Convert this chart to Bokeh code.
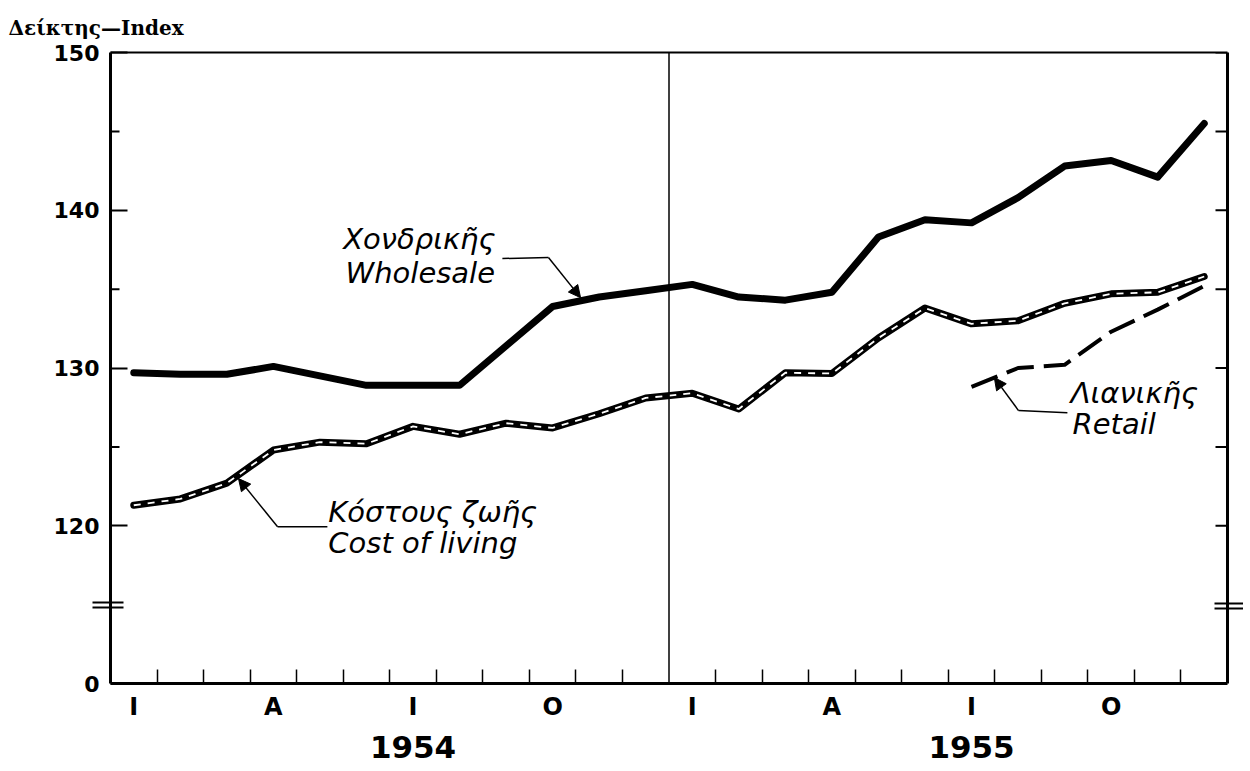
from bokeh.plotting import figure
from bokeh.models import (Range1d, LinearAxis, FixedTicker, Span, Label, Arrow,
                          NormalHead, ColumnDataSource)
from bokeh.embed import file_html
from bokeh.resources import INLINE

# ---------------- data (monthly index, Jan 1954 .. Dec 1955) ----------------
years = ["1954", "1955"]
quarter_letters = ["I", "A", "I", "O"]          # Ιαν., Απρ., Ιουλ., Οκτ.
wholesale = [129.7, 129.6, 129.6, 130.1, 129.5, 128.9, 128.9, 128.9, 131.4, 133.9, 134.5, 134.9,
             135.3, 134.5, 134.3, 134.8, 138.3, 139.4, 139.2, 140.8, 142.8, 143.15, 142.1, 145.5]
cost_of_living = [121.3, 121.7, 122.7, 124.8, 125.3, 125.2, 126.3, 125.8, 126.5, 126.2, 127.1, 128.1,
                  128.4, 127.4, 129.7, 129.65, 131.9, 133.8, 132.8, 133.0, 134.1, 134.7, 134.8, 135.8]
retail = [None] * 18 + [128.8, 130.0, 130.2, 132.3, 133.7, 135.2]
y_tick_values = [120, 130, 140, 150]
y_half_values = [125, 135, 145]
axis_zero = 110      # position of the broken-axis "0"

n = len(wholesale)
x = [i + 0.5 for i in range(n)]
retail_f = [float("nan") if v is None else v for v in retail]
src = ColumnDataSource(dict(x=x, w=wholesale, c=cost_of_living, r=retail_f))

FONT = "DejaVu Sans"
FW, FH = 1117, 631                      # frame size in px
PX_X = n / FW                           # data units per px (x)

p = figure(frame_width=FW, frame_height=FH, x_range=Range1d(0, n), y_range=Range1d(axis_zero, 150),
           output_backend="svg", toolbar_location=None,
           x_axis_type=None, y_axis_type=None,
           min_border_left=110, min_border_right=15, min_border_top=52, min_border_bottom=82,
           outline_line_color=None, background_fill_color="white", border_fill_color="white")
p.grid.visible = False

# title at the top-left
p.title.text = "Δείκτης—Index"
p.title.text_font = "DejaVu Serif"
p.title.text_font_style = "bold"
p.title.text_font_size = "20px"
p.title.text_color = "black"
p.title.align = "left"
p.title.offset = -102
p.title.standoff = 26

# ---------------- axes ----------------
brk_left = [114.82, 115.13]     # break marks on the value axis
brk_right = [114.75, 115.1]

yl = LinearAxis(ticker=FixedTicker(ticks=[axis_zero] + y_tick_values, minor_ticks=brk_left),
                major_label_overrides={axis_zero: "0"},
                axis_line_width=3, major_tick_in=17, major_tick_out=0, major_tick_line_width=2,
                minor_tick_in=13, minor_tick_out=18, minor_tick_line_width=2,
                major_label_text_font=FONT, major_label_text_font_size="22px",
                major_label_text_font_style="bold",
                major_label_standoff=-7, major_label_text_color="black")
p.add_layout(yl, "left")

yr = LinearAxis(ticker=FixedTicker(ticks=[], minor_ticks=brk_right),
                axis_line_width=3, minor_tick_in=13, minor_tick_out=16, minor_tick_line_width=2)
p.add_layout(yr, "right")

label_pos = [q * 3 + 0.5 for q in range(2 * len(quarter_letters))]
overrides = {pos: quarter_letters[k % 4] for k, pos in enumerate(label_pos)}
minor_x = [i for i in range(1, n) if i != 12]
xb = LinearAxis(ticker=FixedTicker(ticks=label_pos, minor_ticks=minor_x),
                major_label_overrides=overrides,
                axis_line_width=3, major_tick_line_color=None, major_tick_in=0, major_tick_out=0,
                minor_tick_in=14, minor_tick_out=0, minor_tick_line_width=1.5,
                major_label_text_font=FONT, major_label_text_font_size="24px",
                major_label_text_font_style="bold", major_label_text_color="black",
                major_label_standoff=9)
p.add_layout(xb, "below")

year_pos = [6.5, 18.5]
xy = LinearAxis(ticker=FixedTicker(ticks=year_pos),
                major_label_overrides={year_pos[0]: years[0], year_pos[1]: years[1]},
                axis_line_color=None, major_tick_line_color=None, minor_tick_line_color=None,
                major_tick_in=0, major_tick_out=0, minor_tick_in=0, minor_tick_out=0,
                major_label_text_font=FONT, major_label_text_font_size="31px",
                major_label_text_font_style="bold", major_label_text_color="black",
                major_label_standoff=12)
p.add_layout(xy, "below")

xt = LinearAxis(ticker=FixedTicker(ticks=[]), axis_line_width=2,
                major_tick_line_color=None, minor_tick_line_color=None)
p.add_layout(xt, "above")

# inward tick marks (half-steps on the left, every 5 on the right)
p.segment(x0=[0] * 3, y0=y_half_values, x1=[9 * PX_X] * 3, y1=y_half_values,
          line_color="black", line_width=2)
right_ticks = sorted(y_tick_values + y_half_values)
p.segment(x0=[n - 12 * PX_X] * len(right_ticks), y0=right_ticks, x1=[n] * len(right_ticks),
          y1=right_ticks, line_color="black", line_width=2)

# year divider
p.add_layout(Span(location=12, dimension="height", line_color="black", line_width=1.5))

# ---------------- series ----------------
p.line("x", "w", source=src, line_width=7, line_color="black", line_join="round", line_cap="round")
p.line("x", "c", source=src, line_width=7, line_color="black", line_join="round", line_cap="round")
p.line("x", "c", source=src, line_width=1.8, line_color="white", line_dash="7 7", line_join="round")
p.line("x", "r", source=src, line_width=4, line_color="black", line_dash="28 10", line_join="round")

# ---------------- annotations ----------------
def txt(xv, yv, s, size="29px"):
    p.add_layout(Label(x=xv, y=yv, text=s, text_font=FONT, text_font_size=size,
                       text_font_style="italic", text_baseline="middle", text_align="left",
                       text_color="black"))

def leader(points):
    for (a, b) in zip(points[:-2], points[1:-1]):
        p.add_layout(Arrow(end=None, x_start=a[0], y_start=a[1], x_end=b[0], y_end=b[1],
                           line_color="black", line_width=1.5))
    a, b = points[-2], points[-1]
    p.add_layout(Arrow(end=NormalHead(size=12, fill_color="black", line_color="black", line_width=1),
                       x_start=a[0], y_start=a[1], x_end=b[0], y_end=b[1],
                       line_color="black", line_width=1.5))

txt(5.0, 138.2, "Χονδρικῆς")
txt(5.05, 136.05, "Wholesale")
leader([(8.42, 136.94), (9.41, 137.0), (10.1, 134.46)])

txt(4.68, 120.89, "Κόστους ζωῆς")
txt(4.68, 118.93, "Cost of living")
leader([(4.66, 119.94), (3.59, 119.94), (2.75, 122.99)])

txt(20.63, 128.44, "Λιανικῆς")
txt(20.67, 126.47, "Retail")
leader([(20.56, 127.17), (19.51, 127.30), (18.99, 129.39)])

open("out.html", "w").write(file_html(p, INLINE))
